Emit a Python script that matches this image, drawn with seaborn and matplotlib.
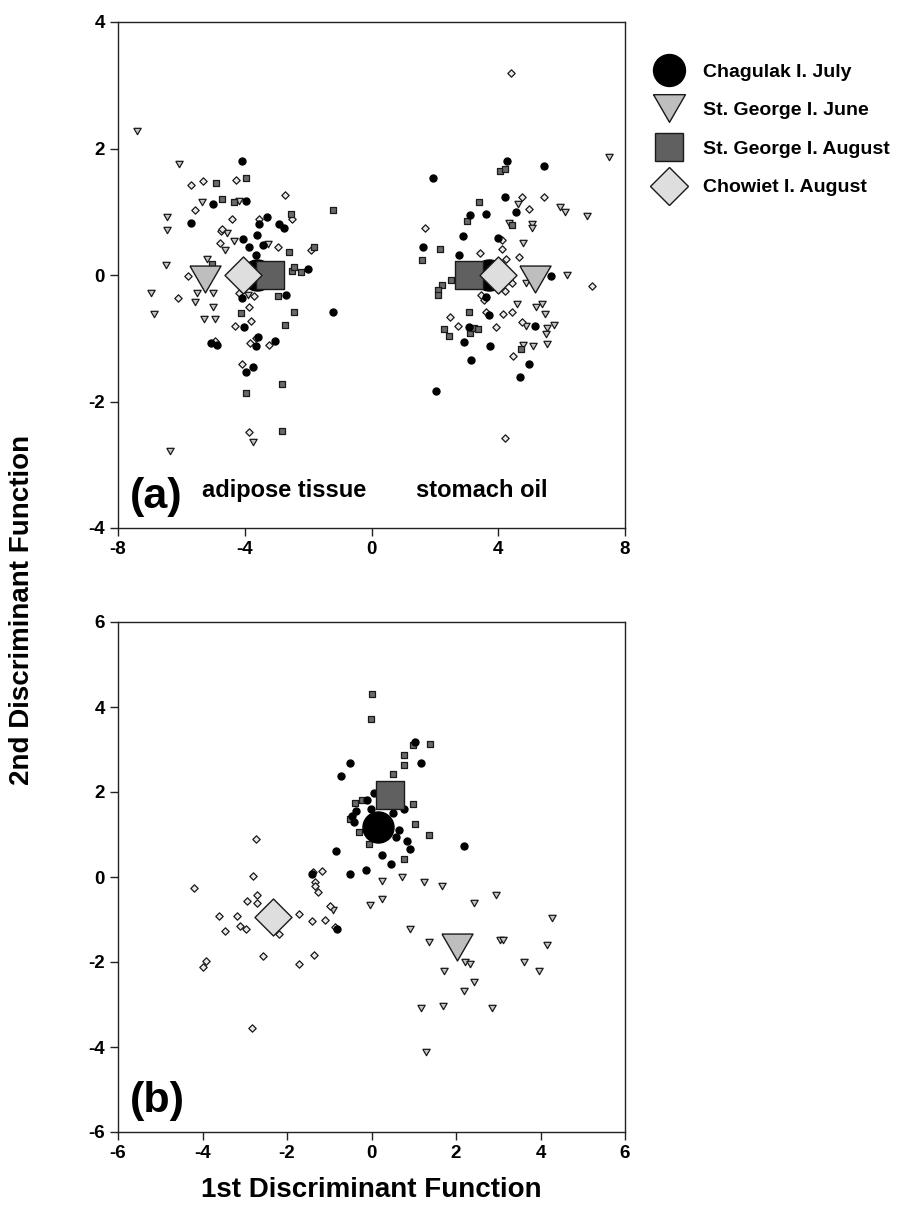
import numpy as np
import pandas as pd
import matplotlib
matplotlib.use("Agg")
import matplotlib.pyplot as plt
from matplotlib.lines import Line2D
import seaborn as sns

# ---------------- data: panel (a) ----------------
# Chagulak I. July (black circles)
a_chag_x = [-4.10, -4.99, -3.97, -5.70, -3.31, -3.56, -2.92, -2.77, -3.60, -4.04, -3.86, -3.43,
            -3.64, -2.00, -2.71, -4.08, -1.20, -4.02, -4.88, -5.08, -3.59, -3.64, -3.06, -3.74, -3.95,
            4.28, 5.45, 1.93, 4.22, 3.10, 3.62, 4.56, 2.88, 1.62, 3.98, 2.75, 5.67, 3.60, 3.72,
            3.09, 5.16, 2.93, 3.75, 3.15, 4.97, 4.70, 2.04]
a_chag_y = [1.80, 1.13, 1.17, 0.83, 0.92, 0.81, 0.81, 0.74, 0.64, 0.57, 0.45, 0.47,
            0.31, 0.09, -0.31, -0.36, -0.58, -0.83, -1.11, -1.07, -0.98, -1.13, -1.05, -1.45, -1.53,
            1.80, 1.72, 1.54, 1.23, 0.95, 0.96, 1.00, 0.62, 0.45, 0.58, 0.31, -0.01, -0.34, -0.63,
            -0.82, -0.80, -1.06, -1.12, -1.35, -1.41, -1.61, -1.83]
# St. George I. June (triangles)
a_sgj_x = [-7.40, -6.09, -5.36, -6.44, -6.46, -4.19, -4.56, -4.33, -4.61, -3.26, -5.20, -6.48,
           -6.96, -5.51, -5.01, -5.58, -6.85, -5.01, -5.30, -4.95, -3.90, -3.74, -6.37,
           7.51, 4.61, 5.94, 6.12, 6.81, 4.35, 5.07, 5.07, 4.77, 6.18, 4.88, 4.58, 5.20, 5.37,
           5.49, 4.88, 5.55, 5.76, 5.51, 4.77, 5.09, 5.53]
a_sgj_y = [2.27, 1.75, 1.16, 0.92, 0.71, 1.17, 0.67, 0.54, 0.39, 0.49, 0.25, 0.16,
           -0.28, -0.29, -0.29, -0.42, -0.62, -0.51, -0.70, -0.70, -0.32, -2.64, -2.79,
           1.87, 1.12, 1.08, 0.99, 0.94, 0.83, 0.80, 0.75, 0.51, 0.00, -0.12, -0.46, -0.51, -0.46,
           -0.62, -0.80, -0.84, -0.79, -0.93, -1.10, -1.13, -1.09]
# St. George I. August (squares)
a_sga_x = [-4.90, -3.97, -4.72, -4.35, -2.55, -1.22, -1.83, -2.60, -5.03, -2.50, -2.23, -2.43,
           -2.96, -4.12, -2.46, -2.74, -2.82, -3.95, -2.84,
           4.04, 4.20, 3.38, 3.02, 4.44, 2.17, 1.58, 2.51, 2.23, 2.09, 2.09, 3.07, 2.30, 2.43,
           3.11, 3.25, 3.37, 4.71]
a_sga_y = [1.46, 1.54, 1.20, 1.15, 0.96, 1.03, 0.45, 0.37, 0.17, 0.07, 0.04, 0.13,
           -0.33, -0.60, -0.59, -0.79, -1.73, -1.87, -2.47,
           1.64, 1.68, 1.15, 0.85, 0.79, 0.41, 0.23, -0.08, -0.16, -0.23, -0.31, -0.59, -0.85, -0.96,
           -0.91, -0.84, -0.85, -1.17]
# Chowiet I. August (diamonds)
a_cho_x = [-5.69, -5.33, -4.29, -2.72, -5.57, -4.39, -3.56, -2.51, -4.76, -4.71, -4.77, -2.94,
           -1.91, -5.78, -6.12, -4.19, -3.72, -3.87, -3.79, -4.31, -4.95, -3.85, -3.64, -3.22,
           -4.08, -3.87,
           4.41, 4.74, 5.45, 4.98, 1.68, 4.11, 4.11, 3.41, 4.66, 4.23, 6.95, 4.43, 4.21, 3.44,
           3.56, 3.62, 4.16, 4.42, 4.74, 3.93, 2.74, 2.48, 4.46, 4.21]
a_cho_y = [1.42, 1.48, 1.50, 1.26, 1.03, 0.88, 0.89, 0.89, 0.70, 0.72, 0.50, 0.44,
           0.40, -0.02, -0.36, -0.29, -0.33, -0.50, -0.73, -0.81, -1.05, -1.08, -1.00, -1.10,
           -1.40, -2.48,
           3.19, 1.23, 1.24, 1.05, 0.75, 0.55, 0.41, 0.34, 0.28, 0.25, -0.17, -0.13, -0.25, -0.32,
           -0.40, -0.58, -0.62, -0.59, -0.74, -0.83, -0.80, -0.66, -1.28, -2.57]
# group means (a): adipose tissue, stomach oil
a_mean_chag_x, a_mean_chag_y = [-3.60, 3.70], [0.0, 0.0]
a_mean_sgj_x, a_mean_sgj_y = [-5.24, 5.17], [-0.06, -0.06]
a_mean_sga_x, a_mean_sga_y = [-3.19, 3.09], [0.0, 0.0]
a_mean_cho_x, a_mean_cho_y = [-4.07, 4.00], [0.0, 0.0]

# ---------------- data: panel (b) ----------------
b_chag_x = [1.02, -0.50, 1.16, -0.73, 0.05, -0.11, 0.76, -0.01, -0.36, -0.46, -0.41, 0.52,
            0.65, 0.58, 0.85, 0.90, 0.24, -0.85, 0.46, -0.13, -0.50, 2.18, -1.40, -0.81]
b_chag_y = [3.18, 2.68, 2.68, 2.38, 1.97, 1.81, 1.59, 1.59, 1.55, 1.44, 1.29, 1.51,
            1.11, 0.95, 0.85, 0.65, 0.52, 0.62, 0.30, 0.16, 0.06, 0.74, 0.06, -1.23]
b_sgj_x = [0.26, 0.73, 1.25, 1.68, 0.26, -0.04, 2.95, 2.42, 4.28, 0.90, 1.35, 3.05, 3.12,
           4.16, 2.21, 2.32, 3.62, 3.96, 1.71, 2.42, 2.18, 1.18, 1.70, 2.86, 1.29, -0.92]
b_sgj_y = [-0.09, 0.01, -0.12, -0.20, -0.52, -0.65, -0.42, -0.60, -0.96, -1.22, -1.52, -1.48, -1.48,
           -1.60, -1.99, -2.05, -2.00, -2.20, -2.22, -2.46, -2.68, -3.09, -3.03, -3.08, -4.12, -0.78]
b_sga_x = [0.02, -0.02, 0.99, 1.39, 0.78, 0.78, 0.50, -0.23, -0.38, 0.99, -0.52, 1.02,
           1.35, -0.29, -0.06, 0.76]
b_sga_y = [4.31, 3.71, 3.11, 3.13, 2.88, 2.63, 2.42, 1.81, 1.74, 1.72, 1.36, 1.25,
           1.00, 1.05, 0.78, 0.43]
b_cho_x = [-2.74, -2.80, -4.19, -2.72, -2.95, -2.72, -3.60, -3.19, -3.47, -3.11, -2.98, -1.72,
           -1.40, -1.11, -0.87, -0.99, -2.20, -2.56, -1.71, -1.36, -3.92, -3.99, -1.38, -1.17,
           -1.33, -1.33, -1.27, -2.84]
b_cho_y = [0.89, 0.03, -0.27, -0.42, -0.57, -0.62, -0.92, -0.92, -1.26, -1.15, -1.23, -0.88,
           -1.04, -1.00, -1.18, -0.68, -1.34, -1.85, -2.05, -1.83, -1.98, -2.12, 0.12, 0.13,
           -0.12, -0.20, -0.35, -3.55]
b_mean_chag_x, b_mean_chag_y = [0.15], [1.18]
b_mean_sgj_x, b_mean_sgj_y = [2.03], [-1.65]
b_mean_sga_x, b_mean_sga_y = [0.43], [1.93]
b_mean_cho_x, b_mean_cho_y = [-2.33], [-0.93]

groups = ["Chagulak I. July", "St. George I. June", "St. George I. August", "Chowiet I. August"]
xticks_a = [-8, -4, 0, 4, 8]
yticks_a = [-4, -2, 0, 2, 4]
ticks_b = [-6, -4, -2, 0, 2, 4, 6]

# ---------------- style ----------------
sns.set_theme(style="ticks")
plt.rcParams["font.family"] = ["Liberation Sans", "DejaVu Sans"]
plt.rcParams["font.weight"] = "bold"
plt.rcParams["axes.unicode_minus"] = False
plt.rcParams["text.color"] = "black"
plt.rcParams["xtick.labelcolor"] = "black"
plt.rcParams["ytick.labelcolor"] = "black"

TRI = [(-1.0, 0.866), (1.0, 0.866), (0.0, -0.866), (-1.0, 0.866)]
EDGE = "#1a1a1a"
styles = {
    "Chagulak I. July": dict(marker="o", small_s=26, big_s=500, small_fc="black", big_fc="black", ec="black"),
    "St. George I. June": dict(marker=TRI, small_s=28, big_s=500, small_fc="#c4c4c4", big_fc="#bebebe", ec=EDGE),
    "St. George I. August": dict(marker="s", small_s=17, big_s=380, small_fc="#6a6a6a", big_fc="#606060", ec=EDGE),
    "Chowiet I. August": dict(marker="D", small_s=14, big_s=355, small_fc="#e8e8e8", big_fc="#dedede", ec=EDGE),
}

fig = plt.figure(figsize=(8.98, 12.2), dpi=100)
ax_a = fig.add_axes([118 / 898, 1 - 528 / 1220, 507 / 898, 506 / 1220])
ax_b = fig.add_axes([118 / 898, 1 - 1132 / 1220, 507 / 898, 510 / 1220])


def draw(ax, pts, means):
    order_small = ["St. George I. June", "Chowiet I. August", "St. George I. August", "Chagulak I. July"]
    for g in order_small:
        st = styles[g]
        x, y = pts[g]
        df = pd.DataFrame({"x": x, "y": y})
        sns.scatterplot(data=df, x="x", y="y", ax=ax, marker=st["marker"], s=st["small_s"],
                        color=st["small_fc"], edgecolor=st["ec"], linewidth=0.9, zorder=3, legend=False)
    order_big = ["Chagulak I. July", "St. George I. August", "St. George I. June", "Chowiet I. August"]
    for i, g in enumerate(order_big):
        st = styles[g]
        x, y = means[g]
        df = pd.DataFrame({"x": x, "y": y})
        sns.scatterplot(data=df, x="x", y="y", ax=ax, marker=st["marker"], s=st["big_s"],
                        color=st["big_fc"], edgecolor=st["ec"], linewidth=1.0, zorder=5 + i, legend=False)


draw(ax_a,
     {"Chagulak I. July": (a_chag_x, a_chag_y), "St. George I. June": (a_sgj_x, a_sgj_y),
      "St. George I. August": (a_sga_x, a_sga_y), "Chowiet I. August": (a_cho_x, a_cho_y)},
     {"Chagulak I. July": (a_mean_chag_x, a_mean_chag_y), "St. George I. June": (a_mean_sgj_x, a_mean_sgj_y),
      "St. George I. August": (a_mean_sga_x, a_mean_sga_y), "Chowiet I. August": (a_mean_cho_x, a_mean_cho_y)})
draw(ax_b,
     {"Chagulak I. July": (b_chag_x, b_chag_y), "St. George I. June": (b_sgj_x, b_sgj_y),
      "St. George I. August": (b_sga_x, b_sga_y), "Chowiet I. August": (b_cho_x, b_cho_y)},
     {"Chagulak I. July": (b_mean_chag_x, b_mean_chag_y), "St. George I. June": (b_mean_sgj_x, b_mean_sgj_y),
      "St. George I. August": (b_mean_sga_x, b_mean_sga_y), "Chowiet I. August": (b_mean_cho_x, b_mean_cho_y)})

ax_a.set_xlim(-8, 8)
ax_a.set_ylim(-4, 4)
ax_a.set_xticks(xticks_a)
ax_a.set_yticks(yticks_a)
ax_b.set_xlim(-6, 6)
ax_b.set_ylim(-6, 6)
ax_b.set_xticks(ticks_b)
ax_b.set_yticks(ticks_b)

for ax in (ax_a, ax_b):
    ax.set_xlabel("")
    ax.set_ylabel("")
    for sp in ax.spines.values():
        sp.set_visible(True)
        sp.set_color("#222222")
        sp.set_linewidth(1.0)
    ax.tick_params(direction="out", length=5.5, width=1.0, color="#222222", labelcolor="black",
                   labelsize=13.5, pad=4)
    for lab in ax.get_xticklabels() + ax.get_yticklabels():
        lab.set_fontweight("bold")

ax_a.text(-7.63, -3.68, "(a)", fontsize=31, fontweight="bold", ha="left", va="baseline", color="black")
ax_a.text(-5.36, -3.51, "adipose tissue", fontsize=17, fontweight="bold", ha="left", va="baseline", color="black")
ax_a.text(1.41, -3.51, "stomach oil", fontsize=17, fontweight="bold", ha="left", va="baseline", color="black")
ax_b.text(-5.73, -5.53, "(b)", fontsize=31, fontweight="bold", ha="left", va="baseline", color="black")

fig.text(0.0245, 0.5, "2nd Discriminant Function", rotation=90, fontsize=20, fontweight="bold",
         ha="center", va="center", color="black")
fig.text(371 / 898, 1 - 1190 / 1220, "1st Discriminant Function", fontsize=20, fontweight="bold",
         ha="center", va="center", color="black")

leg_ms = {"Chagulak I. July": 23, "St. George I. June": 23, "St. George I. August": 20, "Chowiet I. August": 19.3}
handles = []
for g in groups:
    st = styles[g]
    handles.append(Line2D([], [], linestyle="none", marker=st["marker"], markersize=leg_ms[g],
                          markerfacecolor=st["big_fc"], markeredgecolor=st["ec"], markeredgewidth=1.0))
fig.legend(handles, groups, loc="upper left", bbox_to_anchor=(649.6 / 898, 1 - 63 / 1220),
           frameon=False, prop={"weight": "bold", "size": 14}, labelcolor="black",
           handlelength=2.0, handletextpad=0.75, labelspacing=1.08, borderpad=0, borderaxespad=0,
           numpoints=1)

fig.savefig("out.png", dpi=100)
